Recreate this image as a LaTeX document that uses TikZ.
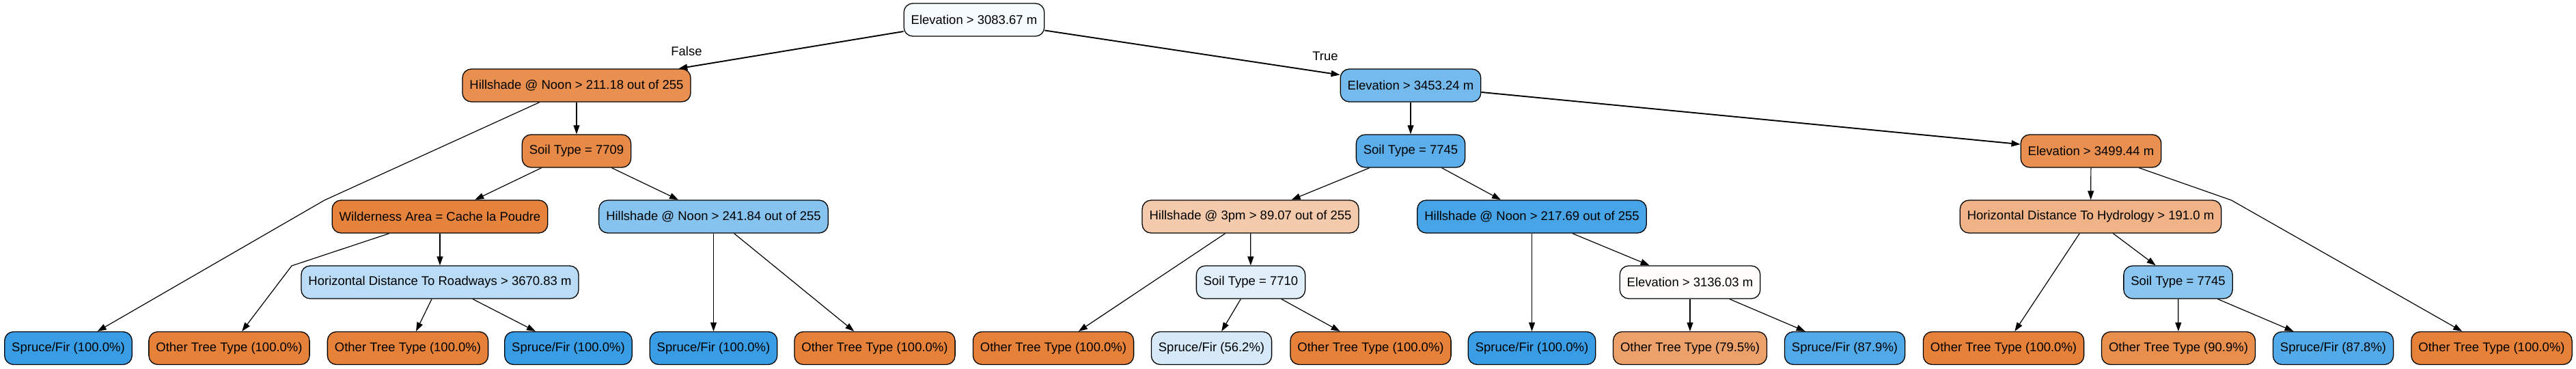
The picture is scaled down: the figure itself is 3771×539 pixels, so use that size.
\documentclass[tikz,border=0pt]{standalone}
\usepackage{fontspec}
\setmainfont{Liberation Sans}
\usetikzlibrary{arrows.meta}

\definecolor{spruce}{HTML}{399DE5}
\definecolor{other}{HTML}{E58139}
\definecolor{cRoot}{HTML}{F6FBFE}
\definecolor{cHa}{HTML}{E99051}
\definecolor{cSa}{HTML}{E78A47}
\definecolor{cWild}{HTML}{E5833C}
\definecolor{cRoad}{HTML}{BADCF6}
\definecolor{cHb}{HTML}{86C3EF}
\definecolor{cEa}{HTML}{74BAED}
\definecolor{cSb}{HTML}{5BAEEA}
\definecolor{cHc}{HTML}{F3CAAB}
\definecolor{cSc}{HTML}{E1EFFB}
\definecolor{cHd}{HTML}{46A4E7}
\definecolor{cEb}{HTML}{FEFCFA}
\definecolor{cEc}{HTML}{E99050}
\definecolor{cHydro}{HTML}{EFB387}
\definecolor{cSd}{HTML}{8AC5F0}
\definecolor{cLa}{HTML}{D5E9F9}
\definecolor{cLb}{HTML}{ECA16B}
\definecolor{cLc}{HTML}{52A9E8}
\definecolor{cLd}{HTML}{E88F4E}
\definecolor{cLe}{HTML}{53AAE8}

\tikzset{
box/.style={draw, rounded corners=13pt, line width=1.3pt, minimum height=48pt,
  inner xsep=10.5pt, inner ysep=0pt, font=\fontsize{18.5}{22}\selectfont},
lbl/.style={font=\fontsize{18.5}{22}\selectfont},
edge/.style={-{Triangle[length=13pt,width=9pt]}, line width=1.2pt},
bigedge/.style={edge, line width=1.9pt},
}

\begin{document}
\begin{tikzpicture}[x=1pt, y=-1pt]
\useasboundingbox (0,0) rectangle (3771,539);

% split nodes
\node[box, fill=cRoot]  (root)  at (1426,29)    {Elevation > 3083.67 m};
\node[box, fill=cHa]    (hA)    at (844,125)    {Hillshade @ Noon > 211.18 out of 255};
\node[box, fill=cSa]    (sA)    at (844,221)    {Soil Type = 7709};
\node[box, fill=cWild]  (wild)  at (644,317)    {Wilderness Area = Cache la Poudre};
\node[box, fill=cRoad]  (road)  at (644,413)    {Horizontal Distance To Roadways > 3670.83 m};
\node[box, fill=cHb]    (hB)    at (1044.5,317) {Hillshade @ Noon > 241.84 out of 255};
\node[box, fill=cEa]    (eA)    at (2065,125)   {Elevation > 3453.24 m};
\node[box, fill=cSb]    (sB)    at (2065,221)   {Soil Type = 7745};
\node[box, fill=cHc]    (hC)    at (1830.5,317) {Hillshade @ 3pm > 89.07 out of 255};
\node[box, fill=cSc]    (sC)    at (1831,413)   {Soil Type = 7710};
\node[box, fill=cHd]    (hD)    at (2242.5,317) {Hillshade @ Noon > 217.69 out of 255};
\node[box, fill=cEb]    (eB)    at (2474,413)   {Elevation > 3136.03 m};
\node[box, fill=cEc]    (eC)    at (3061,221)   {Elevation > 3499.44 m};
\node[box, fill=cHydro] (hydro) at (3060.5,317) {Horizontal Distance To Hydrology > 191.0 m};
\node[box, fill=cSd]    (sD)    at (3188.5,413) {Soil Type = 7745};

% leaves
\node[box, fill=spruce] (l1)  at (100,509.5)    {Spruce/Fir (100.0\%)};
\node[box, fill=other]  (l2)  at (335.5,509.5)  {Other Tree Type (100.0\%)};
\node[box, fill=other]  (l3)  at (597,509.5)    {Other Tree Type (100.0\%)};
\node[box, fill=spruce] (l4)  at (832,509.5)    {Spruce/Fir (100.0\%)};
\node[box, fill=spruce] (l5)  at (1044.5,509.5) {Spruce/Fir (100.0\%)};
\node[box, fill=other]  (l6)  at (1280.5,509.5) {Other Tree Type (100.0\%)};
\node[box, fill=other]  (l7)  at (1542,509.5)   {Other Tree Type (100.0\%)};
\node[box, fill=cLa]    (l8)  at (1773.5,509.5) {Spruce/Fir (56.2\%)};
\node[box, fill=other]  (l9)  at (2006.5,509.5) {Other Tree Type (100.0\%)};
\node[box, fill=spruce] (l10) at (2242.5,509.5) {Spruce/Fir (100.0\%)};
\node[box, fill=cLb]    (l11) at (2474,509.5)   {Other Tree Type (79.5\%)};
\node[box, fill=cLc]    (l12) at (2700.5,509.5) {Spruce/Fir (87.9\%)};
\node[box, fill=other]  (l13) at (2933,509.5)   {Other Tree Type (100.0\%)};
\node[box, fill=cLd]    (l14) at (3189,509.5)   {Other Tree Type (90.9\%)};
\node[box, fill=cLe]    (l15) at (3415.5,509.5) {Spruce/Fir (87.8\%)};
\node[box, fill=other]  (l16) at (3647.5,509.5) {Other Tree Type (100.0\%)};

\node[lbl] (lfalse) at (1005,75) {False};
\node[lbl] (ltrue)  at (1940,82) {True};

\coordinate (bendA) at (475,293);
\coordinate (bendB) at (427,389);
\coordinate (bendC) at (3266.5,293);

\draw[bigedge] (root)--(hA);
\draw[bigedge] (root)--(eA);
\draw[bigedge] (eA)--(eC);

\draw[edge] (hA)--(bendA)--(l1);
\draw[edge] (hA)--(sA);
\draw[edge] (sA)--(wild);
\draw[edge] (sA)--(hB);
\draw[edge] (wild)--(bendB)--(l2);
\draw[edge] (wild)--(road);
\draw[edge] (road)--(l3);
\draw[edge] (road)--(l4);
\draw[edge] (hB)--(l5);
\draw[edge] (hB)--(l6);
\draw[edge] (eA)--(sB);
\draw[edge] (sB)--(hC);
\draw[edge] (sB)--(hD);
\draw[edge] (hC)--(l7);
\draw[edge] (hC)--(sC);
\draw[edge] (sC)--(l8);
\draw[edge] (sC)--(l9);
\draw[edge] (hD)--(l10);
\draw[edge] (hD)--(eB);
\draw[edge] (eB)--(l11);
\draw[edge] (eB)--(l12);
\draw[edge] (eC)--(hydro);
\draw[edge] (eC)--(bendC)--(l16);
\draw[edge] (hydro)--(l13);
\draw[edge] (hydro)--(sD);
\draw[edge] (sD)--(l14);
\draw[edge] (sD)--(l15);

\end{tikzpicture}
\end{document}
